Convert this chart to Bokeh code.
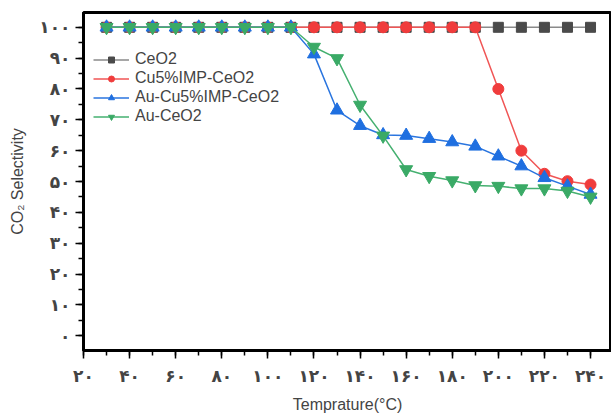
from bokeh.plotting import figure
from bokeh.models import Range1d, FixedTicker, Legend, LegendItem
from bokeh.embed import file_html
from bokeh.resources import INLINE

temps = [30, 40, 50, 60, 70, 80, 90, 100, 110, 120, 130, 140, 150, 160, 170,
         180, 190, 200, 210, 220, 230, 240]
ceo2 = [100] * 22
cu5_imp = [100, 100, 100, 100, 100, 100, 100, 100, 100, 100, 100, 100, 100, 100,
           100, 100, 100, 80.0, 60.0, 52.5, 50.1, 49.0]
au_cu5_imp = [100, 100, 100, 100, 100, 100, 100, 100, 100, 91.3, 73.1, 68.1, 65.1,
              64.9, 63.9, 62.8, 61.4, 58.2, 55.0, 51.2, 48.5, 45.8]
au_ceo2 = [100, 100, 100, 100, 100, 100, 100, 100, 100, 93.6, 89.9, 74.8, 64.8,
           53.9, 51.7, 50.3, 48.7, 48.5, 47.7, 47.7, 46.9, 45.0]

y_ticks = [0, 10, 20, 30, 40, 50, 60, 70, 80, 90, 100]
x_ticks = [20, 40, 60, 80, 100, 120, 140, 160, 180, 200, 220, 240]

fa = str.maketrans("0123456789", "۰۱۲۳۴۵۶۷۸۹")
def fa_num(v):
    return str(v).translate(fa)

p = figure(width=611, height=415, output_backend="svg", toolbar_location=None,
           x_range=Range1d(20, 249.1), y_range=Range1d(-4.8, 104.8),
           min_border_left=83, min_border_right=0, min_border_top=12,
           min_border_bottom=61)
p.grid.visible = False
p.outline_line_color = "black"
p.outline_line_width = 3
p.background_fill_color = "white"

for ax in (p.xaxis[0], p.yaxis[0]):
    ax.axis_line_width = 3
    ax.major_tick_line_width = 1.5
    ax.minor_tick_line_width = 1.5
    ax.major_tick_out = 8
    ax.major_tick_in = 0
    ax.minor_tick_out = 5
    ax.minor_tick_in = 0
    ax.major_label_text_font = "DejaVu Sans"
    ax.major_label_text_font_style = "bold"
    ax.major_label_text_font_size = "17px"
    ax.axis_label_text_font = "Liberation Sans"
    ax.axis_label_text_font_style = "normal"
    ax.axis_label_text_font_size = "16px"

p.xaxis.ticker = FixedTicker(ticks=x_ticks, minor_ticks=list(range(20, 250, 10)))
p.yaxis.ticker = FixedTicker(ticks=y_ticks, minor_ticks=list(range(0, 105, 5)))
p.xaxis.major_label_overrides = {t: fa_num(t) for t in x_ticks}
p.yaxis.major_label_overrides = {t: fa_num(t) for t in y_ticks}
p.xaxis.axis_label = "Temprature(°C)"
p.yaxis.axis_label = "CO₂ Selectivity"
p.xaxis.major_label_standoff = 7
p.yaxis.major_label_standoff = 5
p.xaxis.axis_label_standoff = 7
p.yaxis.axis_label_standoff = 10

l1 = p.line(temps, ceo2, line_color="#8a8a8a", line_width=1.5)
s1 = p.scatter(temps, ceo2, marker="square", size=10, fill_color="#4a4a4a", line_color="#4a4a4a")
l2 = p.line(temps, cu5_imp, line_color="#f05555", line_width=1.5)
s2 = p.scatter(temps, cu5_imp, marker="circle", size=11, fill_color="#f03c3c", line_color="#f03c3c")
l3 = p.line(temps, au_cu5_imp, line_color="#2a75df", line_width=1.5)
s3 = p.scatter(temps, au_cu5_imp, marker="triangle", size=13, fill_color="#1f6fe0", line_color="#1f6fe0")
l4 = p.line(temps, au_ceo2, line_color="#45b070", line_width=1.5)
s4 = p.scatter(temps, au_ceo2, marker="inverted_triangle", size=13, fill_color="#3aaa66", line_color="#3aaa66")

legend = Legend(items=[
    LegendItem(label="CeO2", renderers=[l1, s1]),
    LegendItem(label="Cu5%IMP-CeO2", renderers=[l2, s2]),
    LegendItem(label="Au-Cu5%IMP-CeO2", renderers=[l3, s3]),
    LegendItem(label="Au-CeO2", renderers=[l4, s4]),
], location=(8, 223))
legend.background_fill_alpha = 0
legend.border_line_alpha = 0
legend.label_text_font = "Liberation Sans"
legend.label_text_font_size = "16px"
legend.glyph_width = 36
legend.glyph_height = 15
legend.label_height = 15
legend.spacing = 1
legend.padding = 2
legend.margin = 0
legend.label_standoff = 6
p.add_layout(legend, "center")

open("out.html", "w").write(file_html(p, INLINE))
